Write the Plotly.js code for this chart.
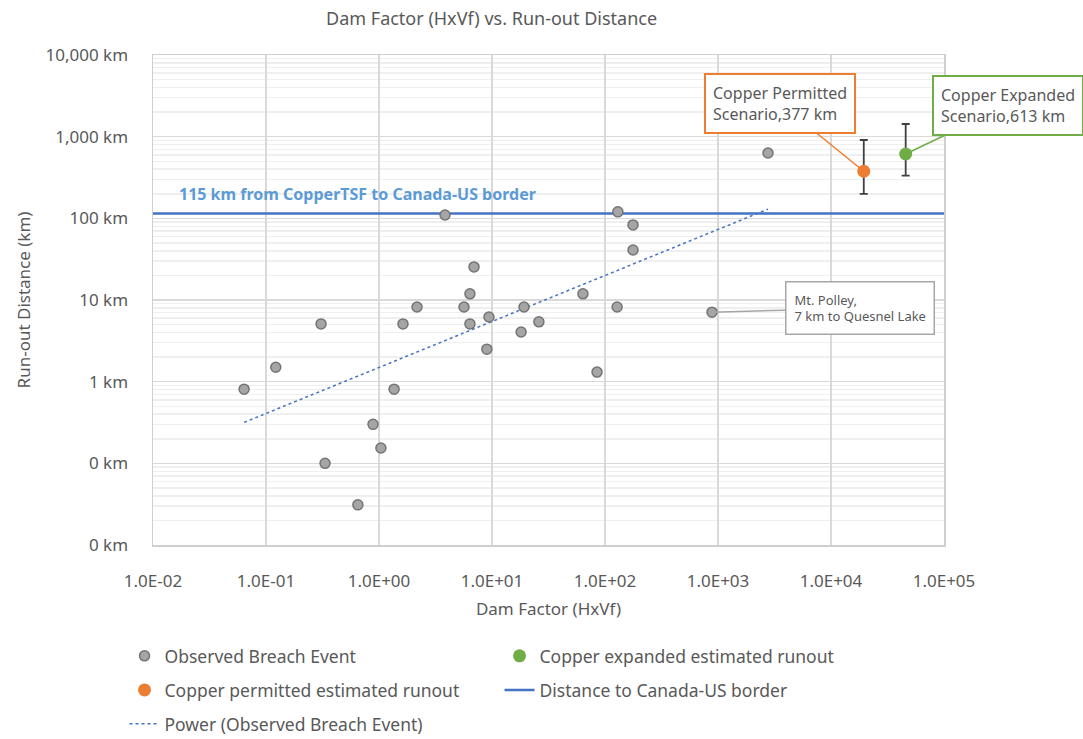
<!DOCTYPE html>
<html>
<head>
<meta charset="utf-8">
<script src="https://cdn.plot.ly/plotly-3.0.1.min.js"></script>
<style>html,body{margin:0;padding:0;background:#fff;}#chart{width:1083px;height:739px;}</style>
</head>
<body>
<div id="chart"></div>
<script>
// Observed breach events: Dam factor (HxVf) and run-out distance (km)
const obsX = [0.064, 0.122, 0.307, 0.333, 0.65, 0.885, 1.04, 1.36, 1.63, 2.17, 3.84, 5.65, 6.38, 6.93, 6.38, 9.4, 9.0, 19.2, 18.1, 26, 63.8, 85, 128, 130, 177, 177, 885, 2770];
const obsY = [0.81, 1.5, 5.1, 0.1, 0.031, 0.30, 0.154, 0.81, 5.1, 8.2, 110, 8.2, 11.9, 25.4, 5.1, 6.2, 2.5, 8.2, 4.06, 5.4, 11.9, 1.31, 8.2, 120, 83, 41, 7.1, 631];
const mtPolleyIndex = 26;

// Copper scenarios
const permX = [19500];
const permY = [377];
const permErrPlus = [533];
const permErrMinus = [178];
const expX = [45800];
const expY = [613];
const expErrPlus = [816];
const expErrMinus = [280];

// Distance to Canada-US border
const borderX = [0.01, 100000];
const borderY = [115, 115];

// Axis ticks
const xTickVals = [0.01, 0.1, 1, 10, 100, 1000, 10000, 100000];
const xTickText = ["1.0E-02", "1.0E-01", "1.0E+00", "1.0E+01", "1.0E+02", "1.0E+03", "1.0E+04", "1.0E+05"];

// Power trendline (least squares on log-log)
const lx = obsX.map(Math.log10), ly = obsY.map(Math.log10);
const n = lx.length;
const mx = lx.reduce((a, b) => a + b, 0) / n, my = ly.reduce((a, b) => a + b, 0) / n;
let sxy = 0, sxx = 0;
for (let i = 0; i < n; i++) { sxy += (lx[i] - mx) * (ly[i] - my); sxx += (lx[i] - mx) ** 2; }
const slope = sxy / sxx, icpt = my - slope * mx;
const trendX = [Math.min(...obsX), Math.max(...obsX)];
const trendY = trendX.map(x => Math.pow(10, icpt) * Math.pow(x, slope));

const FONT = "Noto Sans";
const GREY = "#595959";

const traces = [
  {x: borderX, y: borderY, mode: "lines", name: "Distance to Canada-US border",
   line: {color: "#4472C4", width: 2.5}, legend: "legend2", legendrank: 2, hoverinfo: "skip"},
  {x: trendX, y: trendY, mode: "lines", name: "Power (Observed Breach Event)",
   line: {color: "#4472C4", width: 1.5, dash: "dot"}, legend: "legend3"},
  {x: obsX, y: obsY, mode: "markers", name: "Observed Breach Event", legend: "legend",
   marker: {color: "#A5A5A5", size: 10, line: {color: "#747474", width: 1.5}}},
  {x: expX, y: expY, mode: "markers", name: "Copper expanded estimated runout", legend: "legend",
   marker: {color: "#70AD47", size: 13},
   error_y: {type: "data", symmetric: false, array: expErrPlus, arrayminus: expErrMinus, color: "#404040", thickness: 1.8, width: 4}},
  {x: permX, y: permY, mode: "markers", name: "Copper permitted estimated runout", legend: "legend2", legendrank: 1,
   marker: {color: "#ED7D31", size: 13},
   error_y: {type: "data", symmetric: false, array: permErrPlus, arrayminus: permErrMinus, color: "#404040", thickness: 1.8, width: 4}}
];

const legendCommon = {orientation: "h", x: -0.036, xanchor: "left", yanchor: "middle",
  entrywidth: 330, entrywidthmode: "pixels", font: {family: FONT, size: 17.5, color: GREY}, bgcolor: "rgba(0,0,0,0)"};

const layout = {
  width: 1083, height: 739,
  paper_bgcolor: "#fff", plot_bgcolor: "#fff",
  margin: {l: 153, r: 139, t: 55, b: 194, autoexpand: false},
  font: {family: FONT, color: GREY},
  title: {text: "Dam Factor (HxVf) vs. Run-out Distance", font: {family: FONT, size: 18, color: GREY},
          x: 0.428, xref: "paper", xanchor: "center", y: 0.975, yref: "container", yanchor: "middle"},
  xaxis: {type: "log", range: [-2, 5], tickmode: "array", tickvals: xTickVals, ticktext: xTickText, automargin: false,
          tickfont: {family: FONT, size: 17, color: GREY}, ticks: "", ticklabelstandoff: 20,
          showgrid: true, gridcolor: "#D9D9D9", gridwidth: 1.5, zeroline: false,
          showline: true, linecolor: "#CFCFCF", linewidth: 1.5, mirror: true,
          title: {text: "Dam Factor (HxVf)", font: {family: FONT, size: 17, color: GREY}, standoff: 12}},
  yaxis: {type: "log", range: [-2, 4], dtick: 1, tickformat: ",.0f", ticksuffix: " km", automargin: false,
          tickfont: {family: FONT, size: 17, color: GREY}, ticks: "", ticklabelstandoff: 20,
          showgrid: true, gridcolor: "#D9D9D9", gridwidth: 1.5, zeroline: false,
          showline: true, linecolor: "#CFCFCF", linewidth: 1.5, mirror: true,
          minor: {dtick: "D1", showgrid: true, gridcolor: "#EFEFEF", gridwidth: 1.5, ticks: ""},
          title: {text: "Run-out Distance (km)", font: {family: FONT, size: 17, color: GREY}, standoff: 10}},
  legend: Object.assign({}, legendCommon, {y: -0.2265}),
  legend2: Object.assign({}, legendCommon, {y: -0.296}),
  legend3: Object.assign({}, legendCommon, {y: -0.365}),
  showlegend: true,
  annotations: [
    {xref: "paper", x: 0.03, xanchor: "left", yref: "y", y: Math.log10(borderY[0]), yanchor: "bottom", yshift: 6,
     text: "<b>" + borderY[0] + " km from CopperTSF to Canada-US border</b>", showarrow: false,
     font: {family: FONT, size: 16, color: "#5B9BD5"}},
    {x: Math.log10(permX[0]), y: Math.log10(permY[0]), ax: -84, ay: -68, showarrow: true, arrowhead: 0,
     arrowcolor: "#ED7D31", arrowwidth: 1.5, standoff: 0,
     text: "Copper Permitted<br>Scenario," + permY[0] + " km", align: "left",
     font: {family: FONT, size: 16, color: GREY}, bgcolor: "#fff", bordercolor: "#ED7D31", borderwidth: 2, borderpad: 7},
    {x: Math.log10(expX[0]), y: Math.log10(expY[0]), ax: 102, ay: -49, showarrow: true, arrowhead: 0,
     arrowcolor: "#70AD47", arrowwidth: 1.5, standoff: 0,
     text: "Copper Expanded<br>Scenario," + expY[0] + " km", align: "left",
     font: {family: FONT, size: 16, color: GREY}, bgcolor: "#fff", bordercolor: "#70AD47", borderwidth: 2, borderpad: 7},
    {x: Math.log10(obsX[mtPolleyIndex]), y: Math.log10(obsY[mtPolleyIndex]), ax: 148, ay: -4, showarrow: true, arrowhead: 0,
     arrowcolor: "#A6A6A6", arrowwidth: 1.5, standoff: 0,
     text: "Mt. Polley,<br>" + Math.round(obsY[mtPolleyIndex]) + " km to Quesnel Lake", align: "left",
     font: {family: FONT, size: 13, color: GREY}, bgcolor: "#fff", bordercolor: "#A6A6A6", borderwidth: 1.5, borderpad: 8}
  ]
};

Plotly.newPlot("chart", traces, layout, {displayModeBar: false, staticPlot: true});
</script>
</body>
</html>
